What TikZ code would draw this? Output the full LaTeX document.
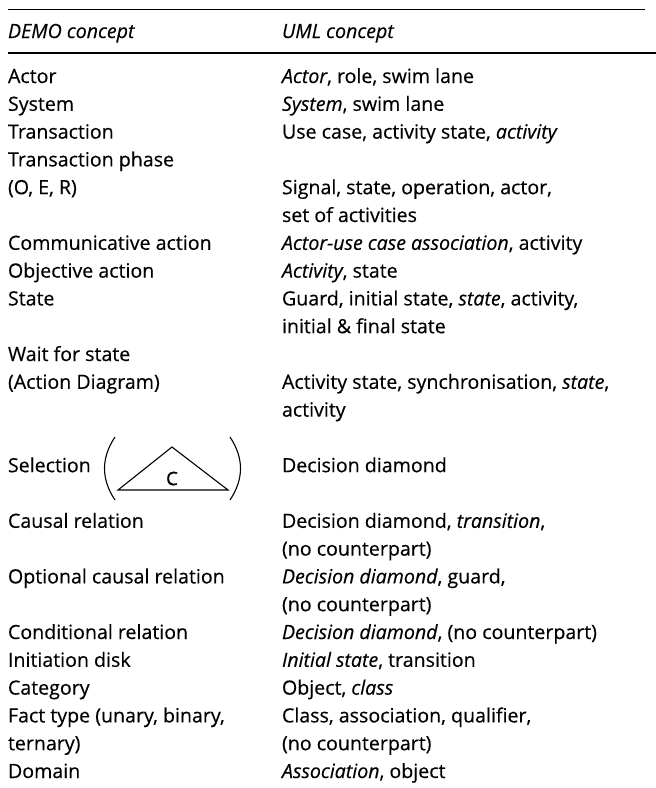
\documentclass[tikz,border=0pt]{standalone}
\usepackage{fontspec}
\setmainfont{Open Sans}[FakeBold=0.35]
\newfontfamily\glyphfont{Open Sans}[FakeBold=1.2]
\begin{document}
\begin{tikzpicture}[x=1pt,y=-1pt,
  cell/.style={anchor=base west,inner sep=0pt,outer sep=0pt,font=\fontsize{19.6}{27.8}\selectfont},
  rule/.style={line width=1.3pt},
  glyph/.style={line width=1.1pt}]
\useasboundingbox (0,0) rectangle (656,788);
% column positions and row pitch
\def\xa{8}
\def\xb{282}
\def\rowy#1{\fpeval{83+27.8*(#1)}}
% rules
\draw[rule] (\xa,9.5) -- (645,9.5);
\draw[rule] (\xa,53) -- (656,53);
% header
\node[cell] (hA) at (\xa,38) {\itshape DEMO concept};
\node[cell] (hB) at (\xb,38) {\itshape UML concept};
% rows
\node[cell] (a0) at (\xa,\rowy{0}) {Actor};
\node[cell] (b0) at (\xb,\rowy{0}) {\textit{Actor}, role, swim lane};
\node[cell] (a1) at (\xa,\rowy{1}) {System};
\node[cell] (b1) at (\xb,\rowy{1}) {\textit{System}, swim lane};
\node[cell] (a2) at (\xa,\rowy{2}) {Transaction};
\node[cell] (b2) at (\xb,\rowy{2}) {Use case, activity state, \textit{activity}};
\node[cell] (a3) at (\xa,\rowy{3}) {Transaction phase};
\node[cell] (a4) at (\xa,\rowy{4}) {(O, E, R)};
\node[cell] (b4) at (\xb,\rowy{4}) {Signal, state, operation, actor,};
\node[cell] (b5) at (\xb,\rowy{5}) {set of activities};
\node[cell] (a6) at (\xa,\rowy{6}) {Communicative action};
\node[cell] (b6) at (\xb,\rowy{6}) {\textit{Actor-use case association}, activity};
\node[cell] (a7) at (\xa,\rowy{7}) {Objective action};
\node[cell] (b7) at (\xb,\rowy{7}) {\textit{Activity}, state};
\node[cell] (a8) at (\xa,\rowy{8}) {State};
\node[cell] (b8) at (\xb,\rowy{8}) {Guard, initial state, \textit{state}, activity,};
\node[cell] (b9) at (\xb,\rowy{9}) {initial \& final state};
\node[cell] (a10) at (\xa,\rowy{10}) {Wait for state};
\node[cell] (a11) at (\xa,\rowy{11}) {(Action Diagram)};
\node[cell] (b11) at (\xb,\rowy{11}) {Activity state, synchronisation, \textit{state},};
\node[cell] (b12) at (\xb,\rowy{12}) {activity};
\node[cell] (a14) at (\xa,\rowy{14}) {Selection};
\node[cell] (b14) at (\xb,\rowy{14}) {Decision diamond};
\node[cell] (a16) at (\xa,\rowy{16}) {Causal relation};
\node[cell] (b16) at (\xb,\rowy{16}) {Decision diamond, \textit{transition},};
\node[cell] (b17) at (\xb,\rowy{17}) {(no counterpart)};
\node[cell] (a18) at (\xa,\rowy{18}) {Optional causal relation};
\node[cell] (b18) at (\xb,\rowy{18}) {\textit{Decision diamond}, guard,};
\node[cell] (b19) at (\xb,\rowy{19}) {(no counterpart)};
\node[cell] (a20) at (\xa,\rowy{20}) {Conditional relation};
\node[cell] (b20) at (\xb,\rowy{20}) {\textit{Decision diamond}, (no counterpart)};
\node[cell] (a21) at (\xa,\rowy{21}) {Initiation disk};
\node[cell] (b21) at (\xb,\rowy{21}) {\textit{Initial state}, transition};
\node[cell] (a22) at (\xa,\rowy{22}) {Category};
\node[cell] (b22) at (\xb,\rowy{22}) {Object, \textit{class}};
\node[cell] (a23) at (\xa,\rowy{23}) {Fact type (unary, binary,};
\node[cell] (b23) at (\xb,\rowy{23}) {Class, association, qualifier,};
\node[cell] (a24) at (\xa,\rowy{24}) {ternary)};
\node[cell] (b24) at (\xb,\rowy{24}) {(no counterpart)};
\node[cell] (a25) at (\xa,\rowy{25}) {Domain};
\node[cell] (b25) at (\xb,\rowy{25}) {\textit{Association}, object};
% selection symbol: triangle with C, in large parentheses
\draw[glyph] (115,437) .. controls (101,458) and (101,479) .. (115,500);
\draw[glyph] (230,437) .. controls (244,458) and (244,479) .. (230,500);
\draw[glyph,line join=miter] (118,490) -- (172,447) -- (228,490) -- cycle;
\node[inner sep=0pt,font=\glyphfont\fontsize{18.5}{18.5}\selectfont] (selc) at (172,478.5) {C};
\end{tikzpicture}
\end{document}
